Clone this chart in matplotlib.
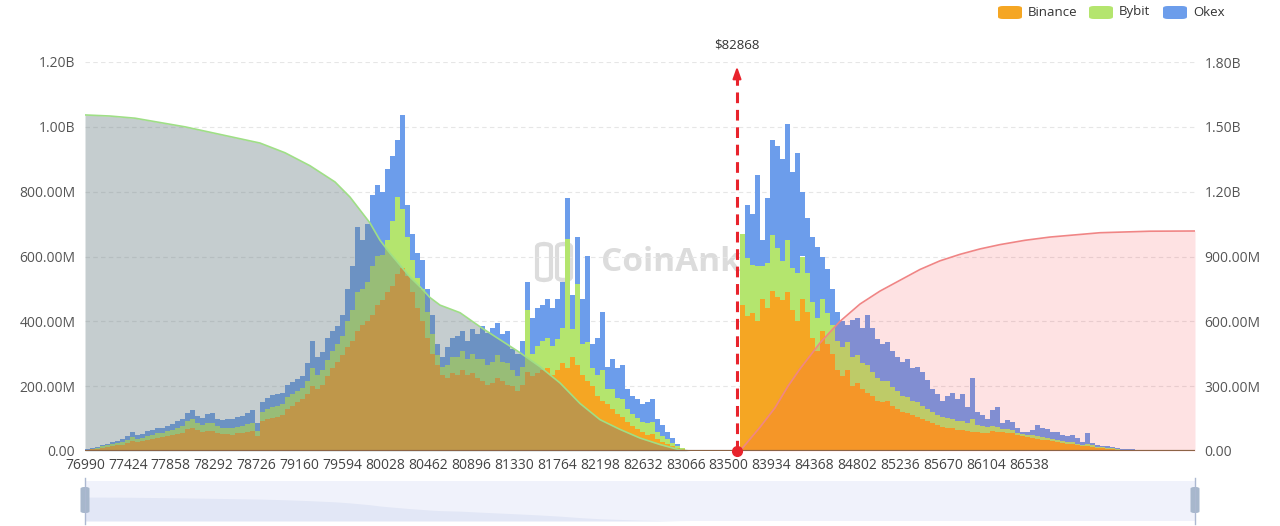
import numpy as np
import matplotlib
matplotlib.use("Agg")
import matplotlib.pyplot as plt
from matplotlib.patches import FancyBboxPatch
from matplotlib.ticker import FuncFormatter

plt.rcParams['font.family'] = ['Open Sans', 'DejaVu Sans']

# liquidation per price bucket (millions)
# long side = buckets below the current price
binance_long = [3, 5, 7, 10, 12, 15, 18, 20, 24, 30,
                28, 30, 34, 37, 40, 42, 45, 48, 52, 56,
                68, 72, 64, 60, 62, 62, 56, 52, 52, 50,
                54, 56, 60, 62, 45, 92, 98, 102, 105, 110,
                130, 138, 150, 160, 175, 200, 190, 205, 230, 255,
                275, 295, 320, 340, 370, 390, 400, 420, 450, 465,
                490, 510, 545, 565, 540, 490, 440, 400, 350, 300,
                265, 235, 225, 240, 235, 250, 235, 240, 225, 215,
                205, 210, 225, 215, 205, 200, 185, 205, 245, 230,
                240, 250, 255, 235, 250, 270, 255, 290, 265, 235,
                215, 200, 170, 155, 145, 130, 115, 105, 90, 78,
                68, 58, 50, 52, 38, 28, 22, 16, 10, 5, 2]
bybit_long = [1, 2, 2, 4, 5, 6, 7, 8, 9, 12,
              9, 10, 12, 13, 14, 14, 16, 16, 18, 20,
              25, 26, 22, 20, 23, 24, 20, 19, 20, 20,
              21, 22, 24, 25, 18, 28, 32, 34, 35, 35,
              38, 38, 36, 35, 40, 55, 45, 45, 50, 55,
              55, 60, 80, 95, 120, 110, 120, 150, 150, 140,
              160, 200, 240, 180, 120, 100, 95, 100, 80, 60,
              30, 25, 40, 50, 55, 60, 50, 60, 60, 70,
              60, 65, 70, 60, 65, 50, 45, 55, 190, 70,
              85, 90, 95, 90, 95, 110, 400, 85, 250, 95,
              120, 55, 65, 95, 45, 60, 50, 55, 40, 35,
              35, 32, 35, 38, 22, 18, 14, 10, 6, 3, 1]
okex_long = [1, 1, 3, 4, 5, 7, 7, 10, 12, 18,
             11, 12, 16, 16, 16, 16, 17, 18, 22, 22,
             25, 27, 22, 22, 30, 32, 24, 24, 26, 30,
             30, 30, 34, 38, 22, 30, 35, 36, 35, 35,
             37, 36, 36, 35, 55, 85, 55, 55, 70, 60,
             55, 65, 100, 135, 200, 150, 180, 220, 220, 195,
             220, 200, 175, 290, 100, 80, 75, 90, 70, 60,
             35, 30, 55, 60, 65, 60, 55, 75, 75, 100,
             100, 105, 100, 85, 100, 65, 70, 80, 85, 110,
             115, 110, 120, 115, 125, 140, 125, 105, 145, 140,
             265, 75, 115, 180, 70, 95, 90, 105, 60, 57,
             57, 55, 65, 70, 40, 34, 24, 14, 6, 2, 0]

# short side = buckets above the current price
binance_short = [450, 415, 425, 400, 470, 440, 495, 475, 465, 490,
                 435, 400, 470, 430, 350, 310, 370, 330, 300, 250,
                 230, 250, 200, 210, 190, 180, 170, 155, 150, 155,
                 140, 130, 120, 118, 110, 105, 100, 92, 85, 80,
                 75, 72, 70, 66, 65, 62, 60, 58, 56, 55,
                 62, 60, 58, 56, 54, 48, 45, 42, 40, 38,
                 35, 33, 30, 28, 25, 23, 22, 18, 15, 14,
                 13, 10, 8, 7, 6, 4, 3, 3, 2, 1,
                 1, 1, 1, 1, 1, 1, 1, 1, 1, 0, 0]
bybit_short = [220, 180, 150, 170, 100, 140, 170, 150, 120, 160,
               130, 150, 130, 120, 110, 100, 100, 95, 90, 90,
               90, 85, 90, 85, 80, 85, 75, 70, 65, 62,
               58, 55, 50, 50, 45, 45, 40, 38, 35, 32,
               30, 30, 30, 28, 28, 25, 40, 22, 20, 20,
               15, 15, 10, 12, 10, 8, 8, 8, 8, 8,
               8, 7, 7, 6, 6, 6, 6, 5, 4, 8,
               4, 3, 3, 3, 2, 2, 1, 1, 1, 1,
               1, 1, 1, 1, 1, 1, 1, 1, 0, 0, 0]
okex_short = [0, 165, 155, 280, 80, 200, 295, 315, 315, 360,
              295, 370, 200, 170, 200, 220, 130, 135, 110, 90,
              80, 55, 115, 115, 110, 155, 135, 120, 115, 118,
              112, 105, 105, 117, 100, 110, 105, 90, 70, 63,
              50, 68, 80, 66, 82, 48, 125, 40, 34, 25,
              48, 60, 17, 27, 26, 14, 7, 8, 17, 34,
              27, 28, 23, 24, 17, 17, 22, 17, 9, 33,
              7, 5, 4, 6, 4, 2, 2, 1, 3, 1,
              0, 0, 0, 0, 1, 1, 1, 0, 0, 1, 0]
gap_bins = 10  # empty buckets just below the current price

# cumulative liquidation curves (millions, right axis) at bucket positions
long_cum_pos = [-0.5, 4.5, 9.5, 14.5, 19.5, 24.5, 29.5, 34.5, 39.5, 44.5,
                49.5, 52.5, 54.5, 56.5, 58.5, 60.5, 62.5, 64.5, 66.5, 68.5,
                70.5, 74.5, 78.5, 82.5, 86.5, 90.5, 94.5, 98.5, 102.5, 106.5,
                110.5, 114.5, 118.5, 120.5]
long_cum = [1555, 1550, 1540, 1520, 1500, 1475, 1450, 1425, 1380, 1320,
            1245, 1175, 1115, 1055, 975, 915, 860, 805, 760, 710,
            675, 640, 575, 515, 455, 390, 315, 220, 145, 100,
            60, 30, 5, 0]
short_cum_pos = [130.5, 134.5, 137.5, 140.1, 142.5, 146.5, 150.5, 154.5, 158.5, 162.5,
                 166.5, 170.5, 174.5, 178.5, 182.5, 187.5, 192.5, 197.5, 202.5, 212.5,
                 221.5]
short_cum = [0, 110, 200, 300, 380, 500, 600, 680, 740, 790,
             840, 880, 910, 935, 955, 975, 990, 1000, 1010, 1017,
             1018]

price_labels = ['76990', '77424', '77858', '78292', '78726', '79160', '79594',
                '80028', '80462', '80896', '81330', '81764', '82198', '82632',
                '83066', '83500', '83934', '84368', '84802', '85236', '85670',
                '86104', '86538']
label_step = 8.58  # buckets between shown labels
current_price = '$82868'
current_pos = 129.9

c_binance = '#F5A623'
c_bybit = '#B4E56E'
c_okex = '#6C9DEB'
c_red = '#E8232C'

binance = np.concatenate([binance_long, np.zeros(gap_bins), binance_short])
bybit = np.concatenate([bybit_long, np.zeros(gap_bins), bybit_short])
okex = np.concatenate([okex_long, np.zeros(gap_bins), okex_short])
pos = np.arange(len(binance))

W, H = 1280, 526
fig = plt.figure(figsize=(W / 100, H / 100), dpi=100)


def fx(px):
    return px / W


def fy(py):
    return 1 - py / H


ax = fig.add_axes([fx(85), fy(451), fx(1195) - fx(85), fy(62) - fy(451)])
ax2 = ax.twinx()

# watermark behind everything
ax.text(0.465, 0.485, 'CoinAnk', transform=ax.transAxes, fontsize=24,
        fontweight='bold', color='#dcdcdc', va='center', ha='left', zorder=0.5)
for x0 in (537, 557):
    ax.add_patch(FancyBboxPatch((fx(x0), fy(280)), fx(14), fy(244) - fy(280),
                                boxstyle='round,pad=0,rounding_size=0.006',
                                transform=fig.transFigure, fill=False,
                                edgecolor='#dcdcdc', lw=3, clip_on=False, zorder=0.5))

# stacked bars
ax.bar(pos, binance, width=1.0, color=c_binance, linewidth=0, antialiased=False, zorder=2)
ax.bar(pos, bybit, width=1.0, bottom=binance, color=c_bybit, linewidth=0,
       antialiased=False, zorder=2)
ax.bar(pos, okex, width=1.0, bottom=binance + bybit, color=c_okex, linewidth=0,
       antialiased=False, zorder=2)

ax.set_xlim(-0.5, len(pos) - 0.5)
ax.set_ylim(0, 1200)
ax.set_yticks(range(0, 1201, 200))
ax.yaxis.grid(True, color='#e6e6e6', lw=0.8, ls=(0, (4, 3)))
ax.set_axisbelow(True)

# cumulative overlays on the right axis
ax2.fill_between(long_cum_pos, 0, long_cum, color=(0.43, 0.51, 0.53), alpha=0.4, lw=0)
ax2.plot(long_cum_pos, long_cum, color='#9fdf86', lw=1.2)
ax2.fill_between(short_cum_pos, 0, short_cum, color=(0.98, 0.24, 0.28), alpha=0.15, lw=0)
ax2.plot(short_cum_pos, short_cum, color='#F08585', lw=1.2)
ax2.set_ylim(0, 1800)
ax2.set_yticks(range(0, 1801, 300))
ax2.axhline(0, color='#8c6446', lw=1.6, zorder=5)


def fmt(v, _):
    if v >= 1000:
        return f'{v / 1000:.2f}B'
    if v > 0:
        return f'{v:.2f}M'
    return '0.00'


for a in (ax, ax2):
    a.yaxis.set_major_formatter(FuncFormatter(fmt))
    a.tick_params(axis='y', length=0, pad=7, labelsize=10, labelcolor='#555555')
    for s in a.spines.values():
        s.set_visible(False)

ax.set_xticks([-0.5 + label_step * k for k in range(len(price_labels))])
ax.set_xticklabels(price_labels)
ax.tick_params(axis='x', length=0, pad=5, labelsize=10, labelcolor='#444444')

# current price marker
ax2.plot([current_pos, current_pos], [0, 1745], color=c_red, lw=2.2,
         ls=(0, (3.5, 2.2)), zorder=6)
ax2.annotate('', xy=(current_pos, 1792), xytext=(current_pos, 1735),
             arrowprops=dict(arrowstyle='-|>,head_length=0.7,head_width=0.25',
                             color=c_red, lw=1.5), zorder=6, annotation_clip=False)
ax2.plot(current_pos, 0, 'o', color=c_red, ms=7, clip_on=False, zorder=7)
ax2.text(current_pos, 1879, current_price, ha='center', va='center', fontsize=9.5,
         color='#333333', clip_on=False, parse_math=False)

# legend
legend = [('Binance', c_binance, 998), ('Bybit', c_bybit, 1089), ('Okex', c_okex, 1163)]
for name, col, x0 in legend:
    fig.patches.append(FancyBboxPatch((fx(x0), fy(19)), fx(24), fy(6) - fy(19),
                                      boxstyle='round,pad=0,rounding_size=0.004',
                                      transform=fig.transFigure, color=col, lw=0))
    fig.text(fx(x0 + 30), fy(12), name, fontsize=9.5, color='#333333', va='center')

# data zoom slider
axs = fig.add_axes([fx(85), fy(521), fx(1195) - fx(85), fy(481) - fy(521)])
axs.set_facecolor('#F0F2FB')
axs.fill_between(long_cum_pos, 0, long_cum, color='#E2E7F6', lw=0)
axs.set_xlim(-0.5, len(pos) - 0.5)
axs.set_ylim(0, 2600)
axs.set_xticks([])
axs.set_yticks([])
for s in axs.spines.values():
    s.set_visible(False)
for xh in (85, 1195):
    fig.lines.append(plt.Line2D([fx(xh), fx(xh)], [fy(478), fy(524)],
                                transform=fig.transFigure, color='#ACB8D1', lw=1))
    fig.patches.append(FancyBboxPatch((fx(xh - 4.5), fy(513)), fx(9), fy(487) - fy(513),
                                      boxstyle='round,pad=0,rounding_size=0.003',
                                      transform=fig.transFigure, color='#A7B7CC', lw=0))

fig.savefig('out.png', dpi=100)
